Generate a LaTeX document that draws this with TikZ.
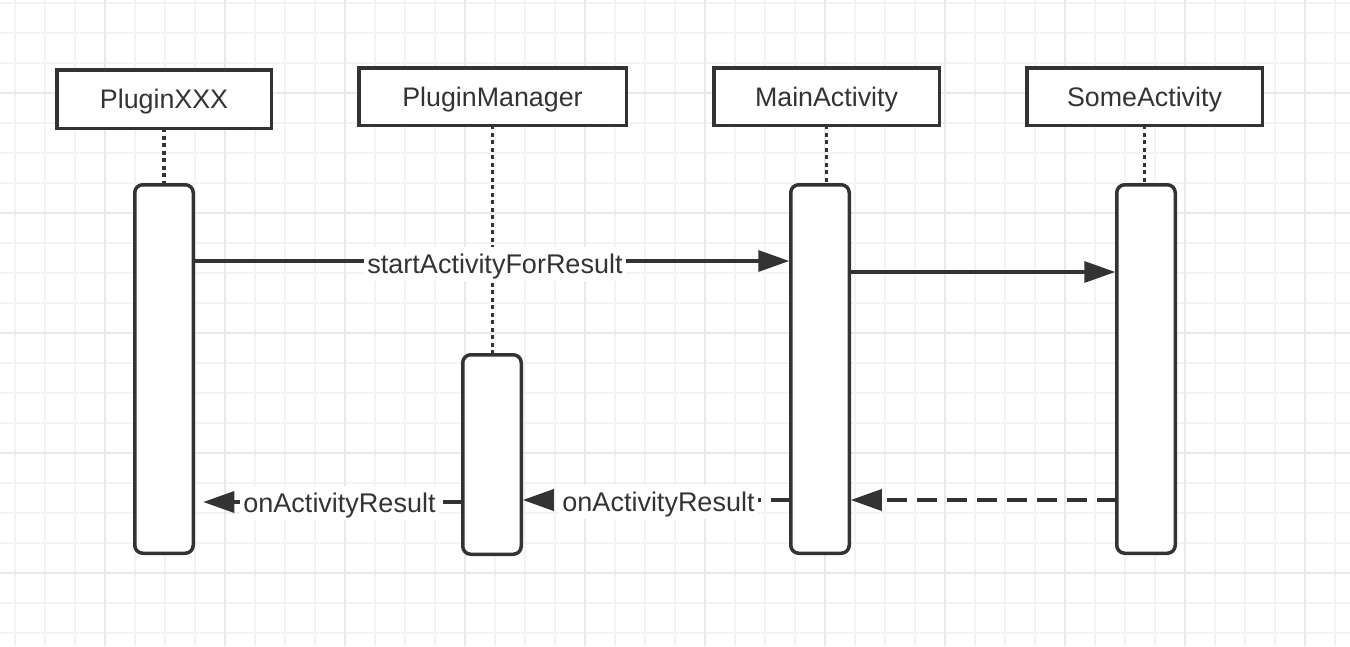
\documentclass[tikz,border=0pt]{standalone}
\usepackage{fontspec}
\setmainfont{Liberation Sans}
\usetikzlibrary{arrows.meta}
\definecolor{ink}{HTML}{333333}
\definecolor{gridminor}{HTML}{F3F3F3}
\definecolor{gridmajor}{HTML}{E9E9E9}
\begin{document}
\begin{tikzpicture}[x=1pt,y=-1pt,
  head/.style={draw=ink, line width=3.5pt, fill=white, inner sep=0pt, outer sep=0pt, text=ink, text height=19pt, text depth=0pt, font=\fontsize{26.8}{30}\selectfont},
  actbar/.style={draw=ink, line width=3.5pt, fill=white, rounded corners=8pt, inner sep=0pt, outer sep=0pt, minimum width=58.5pt},
  life/.style={draw=ink, line width=3.5pt, dash pattern=on 4pt off 3.5pt},
  msg/.style={draw=ink, line width=3.5pt, -{Triangle[length=31pt,width=21pt]}, shorten >=1.5pt},
  ret/.style={msg, dash pattern=on 20pt off 10pt},
  lbl/.style={fill=white, text=ink, inner xsep=3pt, inner ysep=7.5pt, text height=19pt, text depth=0pt, font=\fontsize{27}{30}\selectfont}
]
\useasboundingbox (0,0) rectangle (1350,646);
\fill[white] (0,0) rectangle (1350,646);
% grid
\foreach \x in {15,45,...,1335} \draw[gridminor, line width=1.5pt] (\x,0) -- (\x,646);
\foreach \y in {3,33,...,633} \draw[gridminor, line width=1.5pt] (0,\y) -- (1350,\y);
\foreach \x in {105,225,...,1305} \draw[gridmajor, line width=2pt] (\x,0) -- (\x,646);
\foreach \y in {93,213,...,573} \draw[gridmajor, line width=2pt] (0,\y) -- (1350,\y);

% headers
\node[head, minimum width=214.5pt, minimum height=58.5pt] (hX) at (164,99) {PluginXXX};
\node[head, minimum width=267.5pt, minimum height=57.5pt] (hP) at (492.5,96.5) {PluginManager};
\node[head, minimum width=225.5pt, minimum height=57.5pt] (hM) at (826.5,96.5) {MainActivity};
\node[head, minimum width=235.5pt, minimum height=57.5pt] (hS) at (1144.5,96.5) {SomeActivity};

% activation bars
\node[actbar, minimum height=368.5pt] (bX) at (164,369) {};
\node[actbar, minimum height=199.5pt] (bP) at (492,454.5) {};
\node[actbar, minimum height=368.5pt] (bM) at (820,369) {};
\node[actbar, minimum height=368.5pt] (bS) at (1146,369) {};

% lifelines
\draw[life] (hX.south) -- (hX.south |- bX.north);
\draw[life] (hP.south) -- (hP.south |- bP.north);
\draw[life] (hM.south) -- (hM.south |- bM.north);
\draw[life] (hS.south) -- (hS.south |- bS.north);

% message levels
\coordinate (m1) at (0,261);
\coordinate (m2) at (0,272);
\coordinate (m3) at (0,500);
\coordinate (m4) at (0,502);

% messages
\draw[msg] (bX.east |- m1) -- (bM.west |- m1);
\draw[msg] (bM.east |- m2) -- (bS.west |- m2);
\draw[ret] (bS.west |- m3) -- (bM.east |- m3);
\draw[ret] (bM.west |- m3) -- (bP.east |- m3);
\draw[ret, shorten >=10pt] (bP.west |- m4) -- (bX.east |- m4);

% labels
\node[lbl] (l1) at (495,263.5) {startActivityForResult};
\node[lbl] (l2) at (658.5,502) {onActivityResult};
\node[lbl] (l3) at (339.5,503) {onActivityResult};
\end{tikzpicture}
\end{document}
